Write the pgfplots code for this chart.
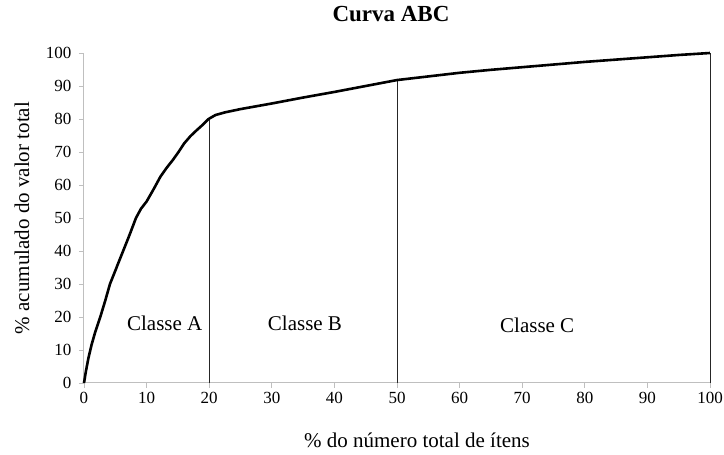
\documentclass[border=0pt]{standalone}
\usepackage{fontspec}
\setmainfont{Liberation Serif}
\usepackage{pgfplots}
\pgfplotsset{compat=1.18}
\begin{document}
\begin{tikzpicture}
\useasboundingbox (-84pt,-72pt) rectangle (640pt,383pt);
\begin{axis}[
  at={(0pt,0pt)}, anchor=south west,
  scale only axis, width=626pt, height=330pt,
  xmin=0, xmax=100, ymin=0, ymax=100,
  xtick={0,10,...,100}, ytick={0,10,...,100},
  axis x line=bottom, axis y line=left,
  axis line style={-, draw=gray!50, line width=1pt},
  tick align=outside, major tick length=5pt,
  tick style={draw=gray!50, line width=0.8pt},
  /pgf/number format/assume math mode=true,
  ticklabel style={font=\fontsize{17}{19}\selectfont},
  xticklabel style={yshift=-1pt},
  yticklabel style={xshift=-4pt},
  xlabel={\% do número total de ítens},
  ylabel={\% acumulado do valor total},
  xlabel style={font=\fontsize{21}{23}\selectfont, at={(axis description cs:0.532,-0.173)}, anchor=center},
  ylabel style={font=\fontsize{21}{23}\selectfont, at={(axis description cs:-0.099,0.5)}, anchor=center},
  title={\textbf{Curva ABC}},
  title style={font=\fontsize{23}{25}\selectfont, at={(axis description cs:0.4904,1.1)}, anchor=center},
  clip=false,
]
\addplot[black!85, line width=1pt] coordinates {(20,0) (20,80)};
\addplot[black!85, line width=1pt] coordinates {(50,0) (50,91.8)};
\addplot[black!85, line width=1pt] coordinates {(100,0) (100,100)};
\addplot[black, line width=2.6pt, line join=round] coordinates {
(0,0) (0.3,3.5) (0.7,7.5) (1.2,11.5) (1.8,15.5) (2.6,20) (3.4,25) (4.15,30) (5.2,35) (6.25,40) (7.3,45) (8.3,50) (9.1,52.8) (10,55)
(11.2,59) (12.2,62.5) (13.2,65.2) (14.2,67.6) (15.1,70) (16,72.6) (17,74.8) (18,76.6) (19,78.3) (19.9,80) (21,81.2) (22.5,82)
(25,83) (30,84.7) (35,86.5) (40,88.2) (45,90) (50,91.8) (55,92.9) (60,94)
(65,94.9) (70,95.7) (75,96.5) (80,97.3) (85,98) (90,98.7) (95,99.4) (100,100)};
\node[font=\fontsize{21}{23}\selectfont] at (axis cs:12.9,18.2) {Classe A};
\node[font=\fontsize{21}{23}\selectfont] at (axis cs:35.3,18.2) {Classe B};
\node[font=\fontsize{21}{23}\selectfont] at (axis cs:72.4,17.5) {Classe C};
\end{axis}
\end{tikzpicture}
\end{document}
